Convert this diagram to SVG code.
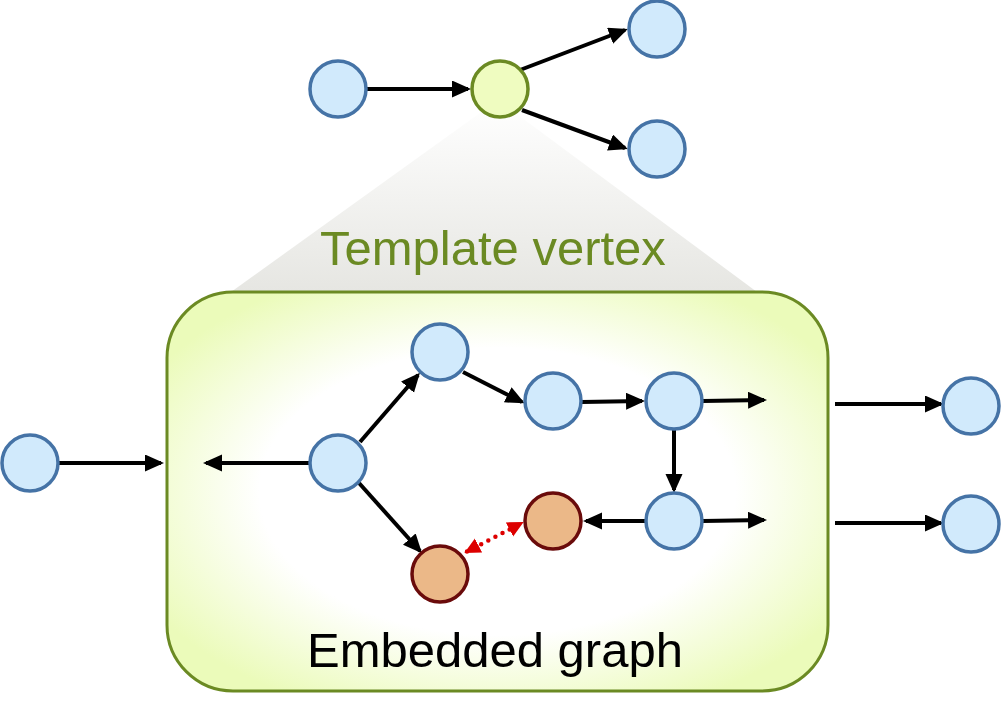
<svg xmlns="http://www.w3.org/2000/svg" width="1004" height="712" viewBox="0 0 1004 712">
<defs>
<linearGradient id="shade" x1="0" y1="0" x2="0" y2="1">
<stop offset="0" stop-color="#ffffff"/>
<stop offset="1" stop-color="#e6e6e2"/>
</linearGradient>
<radialGradient id="box" cx="0.5" cy="0.5" r="0.6">
<stop offset="0.6" stop-color="#ffffff"/>
<stop offset="1" stop-color="#ebfbba"/>
</radialGradient>
<marker id="ah" markerUnits="userSpaceOnUse" markerWidth="20" markerHeight="18" refX="16" refY="8.5" orient="auto">
<path d="M0,0 L19,8.5 L0,17 z" fill="#000"/>
</marker>
<marker id="rh" markerUnits="userSpaceOnUse" markerWidth="19" markerHeight="17" refX="13" refY="8" orient="auto-start-reverse">
<path d="M0,0 L16,8 L0,16 z" fill="#dd0000"/>
</marker>
</defs>
<style>
.blue{fill:#d1eafc;stroke:#4573a6;stroke-width:3.5}
.orange{fill:#ebb888;stroke:#6a0b0b;stroke-width:3.5}
.green{fill:#effcc0;stroke:#6b8a23;stroke-width:3.5}
.e{stroke:#000;stroke-width:4;fill:none;marker-end:url(#ah)}
.red{stroke:#dd0000;stroke-width:4.5;stroke-dasharray:0 8;stroke-linecap:round;fill:none;marker-start:url(#rh);marker-end:url(#rh)}
.t{font-family:"Liberation Sans",Arial,sans-serif;font-size:49px}
</style>
<polygon points="498,100 231,292 757,292" fill="url(#shade)"/>
<g id="embedded">
<rect x="167" y="292" width="661" height="399" rx="66" ry="66" fill="url(#box)" stroke="#6b8a23" stroke-width="3"/>
<text class="t" x="307" y="667" fill="#000">Embedded graph</text>
</g>
<text id="template-label" class="t" x="320" y="265" fill="#6b8a23">Template vertex</text>
<g id="connectors">
<line class="e" x1="367" y1="89" x2="468" y2="89"/>
<line class="e" x1="520" y1="70" x2="625" y2="30"/>
<line class="e" x1="522" y1="110" x2="625" y2="148"/>
<line class="e" x1="58" y1="463" x2="161" y2="463"/>
<line class="e" x1="310" y1="463" x2="206" y2="463"/>
<line class="e" x1="360" y1="442" x2="418" y2="375"/>
<line class="e" x1="463" y1="372" x2="522" y2="402"/>
<line class="e" x1="582" y1="402" x2="642" y2="401"/>
<line class="e" x1="703" y1="401" x2="764" y2="400"/>
<line class="e" x1="674" y1="429" x2="674" y2="490"/>
<line class="e" x1="646" y1="521" x2="586" y2="521"/>
<line class="e" x1="703" y1="521" x2="764" y2="520"/>
<line class="e" x1="359" y1="483" x2="420" y2="551"/>
<line class="e" x1="835" y1="404" x2="941" y2="404"/>
<line class="e" x1="835" y1="523" x2="941" y2="523"/>
<line class="red" x1="467" y1="551.5" x2="521" y2="523.5"/>
</g>
<g id="n-top-left"><circle class="blue" cx="338" cy="89" r="28"/></g>
<g id="n-template"><circle class="green" cx="500" cy="89" r="28"/></g>
<g id="n-top-r1"><circle class="blue" cx="657" cy="29" r="28"/></g>
<g id="n-top-r2"><circle class="blue" cx="657" cy="149" r="28"/></g>
<g id="n-left"><circle class="blue" cx="30" cy="463" r="28"/></g>
<g id="n-a"><circle class="blue" cx="338" cy="463" r="28"/></g>
<g id="n-b"><circle class="blue" cx="440" cy="352" r="28"/></g>
<g id="n-c"><circle class="blue" cx="553" cy="401" r="28"/></g>
<g id="n-d"><circle class="blue" cx="674" cy="401" r="28"/></g>
<g id="n-e"><circle class="blue" cx="674" cy="521" r="28"/></g>
<g id="n-o1"><circle class="orange" cx="440" cy="574" r="28"/></g>
<g id="n-o2"><circle class="orange" cx="553" cy="521" r="28"/></g>
<g id="n-r1"><circle class="blue" cx="971" cy="406" r="28"/></g>
<g id="n-r2"><circle class="blue" cx="971" cy="524" r="28"/></g>
</svg>
